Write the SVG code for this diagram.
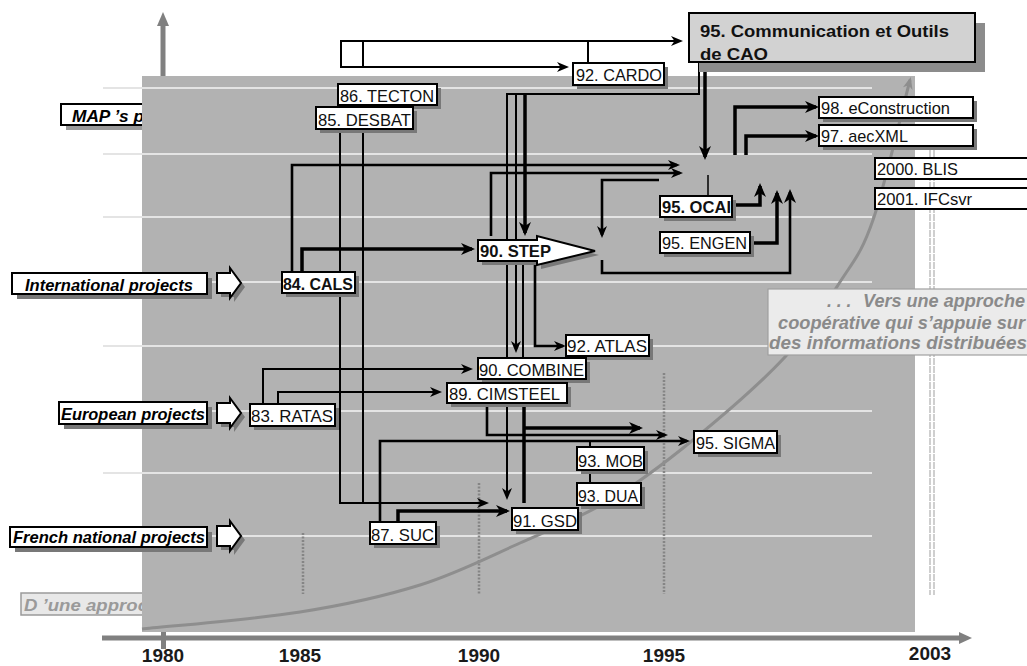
<svg xmlns="http://www.w3.org/2000/svg" width="1027" height="666" viewBox="0 0 1027 666">
<defs>
<style>
.nb{fill:#fff;stroke:#000;stroke-width:2}
.sh{fill:#787878}
.shw{fill:#9a9a9a}
.t{font-family:"Liberation Sans",Arial,sans-serif;font-size:17px;fill:#111}
.b{font-weight:bold}
.lab{font-family:"Liberation Sans",Arial,sans-serif;font-size:16.5px;font-weight:bold;font-style:italic;fill:#000}
.c{fill:none;stroke:#000;stroke-width:2}
.m{stroke-width:2.6}
.k{stroke-width:3.5}
.grid{stroke:#e4e4e4;stroke-width:2}
.dash{stroke:#858585;stroke-width:2.5;stroke-dasharray:2 1.5}
.yr{font-family:"Liberation Sans",Arial,sans-serif;font-size:19px;font-weight:bold;fill:#1a1a1a;text-anchor:middle}
.vers{font-family:"Liberation Sans",Arial,sans-serif;font-size:17.5px;font-weight:bold;font-style:italic;fill:#8a8a8a}
</style>
<marker id="ah" viewBox="0 0 12 10" markerWidth="12" markerHeight="10" refX="9" refY="5" orient="auto" markerUnits="userSpaceOnUse"><path d="M0,0 L12,5 L0,10 L3.5,5 z" fill="#000"/></marker>
<marker id="ahk" viewBox="0 0 14 12" markerWidth="14" markerHeight="12" refX="11" refY="6" orient="auto" markerUnits="userSpaceOnUse"><path d="M0,0 L14,6 L0,12 L4,6 z" fill="#000"/></marker>
<marker id="ahg" viewBox="0 0 12 10" markerWidth="12" markerHeight="10" refX="9" refY="5" orient="auto" markerUnits="userSpaceOnUse"><path d="M0,0 L12,5 L0,10 L3.5,5 z" fill="#8e8e8e"/></marker>
</defs>
<rect x="0" y="0" width="1027" height="666" fill="#fff"/>

<g id="label-map">
<rect class="shw" x="66" y="109" width="100" height="21"/>
<rect class="nb" x="61" y="104" width="100" height="21"/>
<text class="lab" x="72" y="122" textLength="72" lengthAdjust="spacingAndGlyphs">MAP ’s p</text>
</g>
<g id="label-dune">
<rect x="21" y="593" width="130" height="22" fill="#e8e8e8" stroke="#9a9a9a" stroke-width="1.5"/>
<text class="lab" x="24" y="611" textLength="124" lengthAdjust="spacingAndGlyphs" style="fill:#9a9a9a">D ’une approc</text>
</g>

<rect id="area" x="142" y="76" width="773" height="556" fill="#b2b2b2"/>

<g id="grid">
<line class="grid" x1="103" y1="88" x2="872" y2="88"/>
<line class="grid" x1="103" y1="154" x2="872" y2="154"/>
<line class="grid" x1="103" y1="217" x2="872" y2="217"/>
<line class="grid" x1="103" y1="282" x2="872" y2="282"/>
<line class="grid" x1="103" y1="346" x2="872" y2="346"/>
<line class="grid" x1="103" y1="411" x2="872" y2="411"/>
<line class="grid" x1="103" y1="473" x2="872" y2="473"/>
<line class="grid" x1="103" y1="536" x2="872" y2="536"/>
</g>

<g id="year-marks">
<line class="dash" x1="303" y1="533" x2="303" y2="594"/>
<line class="dash" x1="479" y1="483" x2="479" y2="594"/>
<line class="dash" x1="664" y1="373" x2="664" y2="594"/>
<line x1="930" y1="150" x2="930" y2="595" stroke="#b0b0b0" stroke-width="1.2" stroke-dasharray="7 1"/>
<line x1="934" y1="150" x2="934" y2="595" stroke="#b0b0b0" stroke-width="1.2" stroke-dasharray="7 1"/>
</g>

<path id="curve" d="M142,629 C168.3,626.2 253.7,619.3 300,612 C346.3,604.7 383.3,596.5 420,585 C456.7,573.5 488.3,557.2 520,543 C551.7,528.8 581.2,517.2 610,500 C638.8,482.8 663.8,463.8 693,440 C722.2,416.2 760.5,383.3 785,357 C809.5,330.7 825.3,304.8 840,282 C854.7,259.2 861.3,253.7 873,220 C884.7,186.3 903.8,103.3 910,80" fill="none" stroke="#8e8e8e" stroke-width="3" marker-end="url(#ahg)"/>

<g id="axes" fill="#808080">
<line x1="163" y1="76" x2="163" y2="22" stroke="#808080" stroke-width="5"/>
<polygon points="157,26 163,12 169,26"/>
<line x1="102" y1="638" x2="962" y2="638" stroke="#808080" stroke-width="5"/>
<polygon points="959,632 972,638 959,644"/>
<rect x="161" y="632" width="5" height="17"/>
</g>

<g id="connectors">
<rect x="341" y="41" width="22" height="26" fill="#fff" stroke="#000" stroke-width="2"/>
<path class="c" d="M363,41 H680" marker-end="url(#ah)"/>
<path class="c" d="M363,67 H566" marker-end="url(#ah)"/>
<path class="c" d="M588,41 V63"/>
<path class="c" d="M699,62 V94 H507 V497" marker-end="url(#ah)"/>
<path class="c" d="M516,94 V350" marker-end="url(#ah)"/>
<path class="c k" d="M525,94 V233" marker-end="url(#ahk)"/>
<path class="c m" d="M491,236 V173 H680" marker-end="url(#ah)"/>
<path class="c m" d="M292,272 V165 H677" marker-end="url(#ah)"/>
<path class="c k" d="M302,272 V249 H472" marker-end="url(#ahk)"/>
<path class="c" d="M340,129 V503 H486" marker-end="url(#ah)"/>
<path class="c" d="M363,129 V503"/>
<path class="c" d="M523,261 V358"/>
<path class="c m" d="M535,261 V346 H563" marker-end="url(#ah)"/>
<path class="c" d="M263,404 V369 H470" marker-end="url(#ah)"/>
<path class="c" d="M278,404 V392 H439" marker-end="url(#ah)"/>
<path class="c m" d="M487,403 V435 H665" marker-end="url(#ah)"/>
<path class="c k" d="M524,403 V503"/>
<path class="c k" d="M524,428 H640" marker-end="url(#ahk)"/>
<path class="c m" d="M380,522 V441 H687" marker-end="url(#ah)"/>
<path class="c" d="M590,441 V447 M590,470 V483"/>
<path class="c k" d="M398,522 V511 H507" marker-end="url(#ahk)"/>
<path class="c k" d="M705,62 V157" marker-end="url(#ahk)"/>
<path class="c" d="M708,175 V196" style="stroke-width:1.5"/>
<path class="c k" d="M735,155 V107 H816" marker-end="url(#ahk)"/>
<path class="c k" d="M746,155 V136 H816" marker-end="url(#ahk)"/>
<path class="c k" d="M732,205 H760 V186" marker-end="url(#ahk)"/>
<path class="c k" d="M750,243 H777 V193" marker-end="url(#ahk)"/>
<path class="c m" d="M659,180 H602 V235" marker-end="url(#ah)"/>
<path class="c m" d="M602,260 V273 H790 V192" marker-end="url(#ahk)"/>
</g>

<g id="label-international">
<rect class="sh" x="17" y="278" width="195" height="21"/>
<rect class="nb" x="12" y="273" width="195" height="21"/>
<text class="lab" x="25" y="291" textLength="168" lengthAdjust="spacingAndGlyphs">International projects</text>
<polygon class="sh" points="221,277 234,277 234,272 245,287 234,302 234,297 221,297"/>
<polygon class="nb" points="217,273 230,273 230,268 241,283 230,298 230,293 217,293"/>
</g>
<g id="label-european">
<rect class="sh" x="64" y="407" width="148" height="22"/>
<rect class="nb" x="59" y="402" width="148" height="22"/>
<text class="lab" x="61" y="419.5" textLength="144" lengthAdjust="spacingAndGlyphs">European projects</text>
<polygon class="sh" points="221,407 234,407 234,402 245,417 234,432 234,427 221,427"/>
<polygon class="nb" points="217,403 230,403 230,398 241,413 230,428 230,423 217,423"/>
</g>
<g id="label-french">
<rect class="sh" x="15" y="532" width="197" height="20"/>
<rect class="nb" x="10" y="527" width="197" height="20"/>
<text class="lab" x="13" y="543" textLength="192" lengthAdjust="spacingAndGlyphs">French national projects</text>
<polygon class="sh" points="221,530 234,530 234,525 245,540 234,555 234,550 221,550"/>
<polygon class="nb" points="217,526 230,526 230,521 241,536 230,551 230,546 217,546"/>
</g>

<g id="n-tecton"><rect class="sh" x="342" y="88" width="99" height="21"/><rect class="nb" x="338" y="84" width="99" height="21"/><text class="t" x="340" y="102" textLength="94" lengthAdjust="spacingAndGlyphs">86. TECTON</text></g>
<g id="n-desbat"><rect class="sh" x="320" y="111" width="97" height="22"/><rect class="nb" x="316" y="107" width="97" height="22"/><text class="t" x="318" y="126" textLength="93" lengthAdjust="spacingAndGlyphs">85. DESBAT</text></g>
<g id="n-cardo"><rect class="sh" x="577" y="67" width="91" height="22"/><rect class="nb" x="573" y="63" width="91" height="22"/><text class="t" x="576" y="81" textLength="86" lengthAdjust="spacingAndGlyphs">92. CARDO</text></g>
<g id="n-comm"><rect x="699" y="23" width="286" height="49" fill="#8c8c8c"/><rect x="689" y="13" width="286" height="49" fill="#d2d2d2" stroke="#000" stroke-width="2"/>
<text class="t b" x="700" y="37" textLength="249" lengthAdjust="spacingAndGlyphs" style="font-size:16.5px">95. Communication et Outils</text>
<text class="t b" x="700" y="60" textLength="68" lengthAdjust="spacingAndGlyphs" style="font-size:16.5px">de CAO</text></g>
<g id="n-econstruction"><rect class="sh" x="823" y="101" width="154" height="21"/><rect class="nb" x="819" y="97" width="154" height="21"/><text class="t" x="821" y="113.5" textLength="129" lengthAdjust="spacingAndGlyphs">98. eConstruction</text></g>
<g id="n-aecxml"><rect class="sh" x="823" y="129" width="154" height="21"/><rect class="nb" x="819" y="125" width="154" height="21"/><text class="t" x="821" y="142" textLength="87" lengthAdjust="spacingAndGlyphs">97. aecXML</text></g>
<g id="n-blis"><rect class="nb" x="875" y="158" width="160" height="21"/><text class="t" x="877" y="175" textLength="81" lengthAdjust="spacingAndGlyphs">2000. BLIS</text></g>
<g id="n-ifcsvr"><rect class="nb" x="875" y="188" width="160" height="21"/><text class="t" x="877" y="205" textLength="95" lengthAdjust="spacingAndGlyphs">2001. IFCsvr</text></g>
<g id="n-ocai"><rect class="sh" x="664" y="200" width="72" height="21"/><rect class="nb" x="660" y="196" width="72" height="21"/><text class="t b" x="662" y="212.5" textLength="69" lengthAdjust="spacingAndGlyphs">95. OCAI</text></g>
<g id="n-engen"><rect class="sh" x="664" y="236" width="90" height="21"/><rect class="nb" x="660" y="232" width="90" height="21"/><text class="t" x="662" y="249" textLength="85" lengthAdjust="spacingAndGlyphs">95. ENGEN</text></g>
<g id="n-step"><polygon class="sh" points="482,244 541,244 541,240 599,255 541,269 541,265 482,265"/><polygon class="nb" points="478,240 537,240 537,236 595,251 537,265 537,261 478,261"/><text class="t b" x="480" y="257" textLength="71" lengthAdjust="spacingAndGlyphs">90. STEP</text></g>
<g id="n-atlas"><rect class="sh" x="570" y="339" width="83" height="21"/><rect class="nb" x="566" y="335" width="83" height="21"/><text class="t" x="567" y="352" textLength="80" lengthAdjust="spacingAndGlyphs">92. ATLAS</text></g>
<g id="n-combine"><rect class="sh" x="482" y="362" width="108" height="21"/><rect class="nb" x="478" y="358" width="108" height="21"/><text class="t" x="479" y="375.5" textLength="105" lengthAdjust="spacingAndGlyphs">90. COMBINE</text></g>
<g id="n-cimsteel"><rect class="sh" x="451" y="387" width="120" height="20"/><rect class="nb" x="447" y="383" width="120" height="20"/><text class="t" x="449" y="400" textLength="111" lengthAdjust="spacingAndGlyphs">89. CIMSTEEL</text></g>
<g id="n-sigma"><rect class="sh" x="698" y="435" width="83" height="22"/><rect class="nb" x="694" y="431" width="83" height="22"/><text class="t" x="696" y="449" textLength="79" lengthAdjust="spacingAndGlyphs">95. SIGMA</text></g>
<g id="n-mob"><rect class="sh" x="581" y="451" width="67" height="23"/><rect class="nb" x="577" y="447" width="67" height="23"/><text class="t" x="578" y="466.5" textLength="65" lengthAdjust="spacingAndGlyphs">93. MOB</text></g>
<g id="n-dua"><rect class="sh" x="581" y="487" width="64" height="22"/><rect class="nb" x="577" y="483" width="64" height="22"/><text class="t" x="578" y="502" textLength="60" lengthAdjust="spacingAndGlyphs">93. DUA</text></g>
<g id="n-gsd"><rect class="sh" x="516" y="512" width="66" height="22"/><rect class="nb" x="512" y="508" width="66" height="22"/><text class="t" x="513" y="527" textLength="64" lengthAdjust="spacingAndGlyphs">91. GSD</text></g>
<g id="n-suc"><rect class="sh" x="374" y="526" width="66" height="22"/><rect class="nb" x="370" y="522" width="66" height="22"/><text class="t" x="371" y="541" textLength="63" lengthAdjust="spacingAndGlyphs">87. SUC</text></g>
<g id="n-ratas"><rect class="sh" x="254" y="408" width="85" height="22"/><rect class="nb" x="250" y="404" width="85" height="22"/><text class="t" x="251" y="422" textLength="82" lengthAdjust="spacingAndGlyphs">83. RATAS</text></g>
<g id="n-cals"><rect class="sh" x="286" y="276" width="73" height="21"/><rect class="nb" x="282" y="272" width="73" height="21"/><text class="t b" x="283" y="290" textLength="70" lengthAdjust="spacingAndGlyphs">84. CALS</text></g>

<g id="note-vers">
<rect x="768" y="289" width="262" height="66" fill="#ebebeb" stroke="#a0a0a0" stroke-width="1.2"/>
<text class="vers" x="827" y="307">. . .</text>
<text class="vers" x="863" y="307" textLength="162" lengthAdjust="spacingAndGlyphs">Vers une approche</text>
<text class="vers" x="778" y="329" textLength="247" lengthAdjust="spacingAndGlyphs">coopérative qui s’appuie sur</text>
<text class="vers" x="769" y="349" textLength="258" lengthAdjust="spacingAndGlyphs">des informations distribuées</text>
</g>

<g id="years">
<text class="yr" x="163" y="662">1980</text>
<text class="yr" x="300" y="662">1985</text>
<text class="yr" x="479" y="662">1990</text>
<text class="yr" x="664" y="662">1995</text>
<text class="yr" x="930" y="660">2003</text>
</g>
</svg>
